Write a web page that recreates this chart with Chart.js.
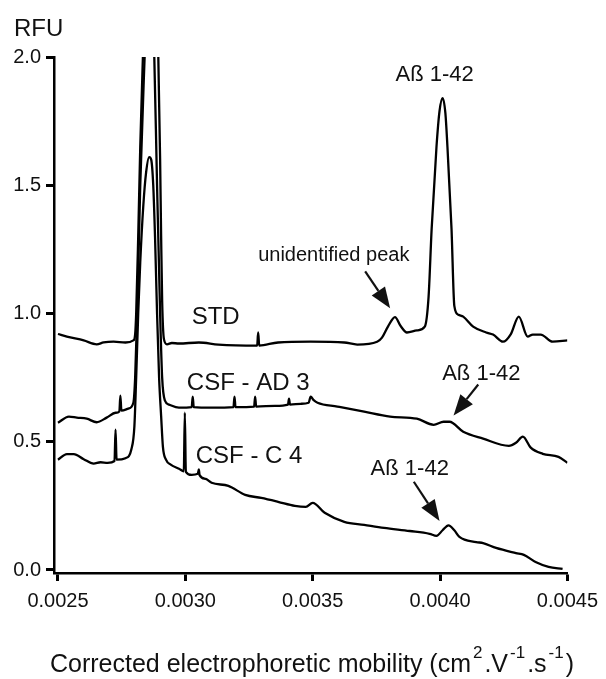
<!DOCTYPE html>
<html>
<head>
<meta charset="utf-8">
<script src="https://cdn.jsdelivr.net/npm/chart.js@4.4.0/dist/chart.umd.min.js"></script>
<style>
    html, body { margin: 0; padding: 0; background: #fff; }
    canvas { display: block; }
</style>
</head>
<body>
<canvas id="myChart" width="606" height="679"></canvas>
<script>
// STD trace
const mobilityStd = [0.002500, 0.002535, 0.002601, 0.002652, 0.002679, 0.002718, 0.002765, 0.002796, 0.002803, 0.002807,
    0.002815, 0.002823, 0.002835, 0.002862, 0.002893, 0.002901, 0.002905, 0.002909, 0.002916, 0.002928,
    0.002947, 0.002975, 0.003053, 0.003130, 0.003282, 0.003286, 0.003290, 0.003364, 0.003492, 0.003624,
    0.003675, 0.003753, 0.003772, 0.003796, 0.003823, 0.003846, 0.003870, 0.003909, 0.003940, 0.003955,
    0.003967, 0.003986, 0.003998, 0.004010, 0.004021, 0.004029, 0.004045, 0.004056, 0.004072, 0.004091,
    0.004130, 0.004181, 0.004208, 0.004247, 0.004278, 0.004309, 0.004344, 0.004364, 0.004395, 0.004442,
    0.004500];
const rfuStd = [0.920, 0.910, 0.895, 0.880, 0.887, 0.890, 0.887, 0.895, 0.920, 1.00,
    1.30, 1.65, 2.05, 2.90, 2.05, 1.60, 1.30, 1.05, 0.900, 0.880,
    0.885, 0.883, 0.887, 0.879, 0.875, 0.926, 0.875, 0.887, 0.890, 0.887,
    0.879, 0.890, 0.906, 0.950, 0.986, 0.950, 0.926, 0.934, 0.949, 1.066,
    1.33, 1.65, 1.79, 1.84, 1.78, 1.65, 1.33, 1.03, 0.995, 0.988,
    0.949, 0.926, 0.918, 0.890, 0.920, 0.988, 0.910, 0.918, 0.918, 0.890,
    0.895];

// CSF - AD 3 trace
const mobilityAd3 = [0.002500, 0.002543, 0.002574, 0.002613, 0.002652, 0.002691, 0.002726, 0.002741, 0.002745, 0.002749,
    0.002776, 0.002796, 0.002803, 0.002811, 0.002823, 0.002842, 0.002858, 0.002877, 0.002889, 0.002901,
    0.002909, 0.002920, 0.002936, 0.002975, 0.003025, 0.003029, 0.003033, 0.003103, 0.003189, 0.003193,
    0.003197, 0.003270, 0.003274, 0.003278, 0.003352, 0.003403, 0.003407, 0.003411, 0.003453, 0.003484,
    0.003492, 0.003504, 0.003519, 0.003597, 0.003702, 0.003804, 0.003909, 0.003975, 0.004014, 0.004037,
    0.004091, 0.004169, 0.004270, 0.004298, 0.004325, 0.004356, 0.004403, 0.004465, 0.004500];
const rfuAd3 = [0.574, 0.598, 0.594, 0.590, 0.576, 0.594, 0.613, 0.618, 0.680, 0.621,
    0.629, 0.652, 0.75, 1.00, 1.50, 2.05, 2.50, 2.05, 1.50, 1.00,
    0.75, 0.660, 0.645, 0.633, 0.635, 0.676, 0.635, 0.633, 0.635, 0.676,
    0.635, 0.637, 0.676, 0.637, 0.640, 0.645, 0.668, 0.645, 0.648, 0.652,
    0.676, 0.662, 0.652, 0.637, 0.617, 0.598, 0.590, 0.566, 0.578, 0.578,
    0.539, 0.512, 0.484, 0.496, 0.520, 0.477, 0.453, 0.441, 0.418];

// CSF - C 4 trace
const mobilityC4 = [0.002500, 0.002535, 0.002562, 0.002601, 0.002640, 0.002667, 0.002695, 0.002722, 0.002726, 0.002730,
    0.002765, 0.002788, 0.002800, 0.002807, 0.002815, 0.002823, 0.002835, 0.002846, 0.002858, 0.002866,
    0.002874, 0.002881, 0.002889, 0.002897, 0.002905, 0.002912, 0.002924, 0.002944, 0.002975, 0.002994,
    0.002998, 0.003002, 0.003025, 0.003049, 0.003053, 0.003056, 0.003080, 0.003103, 0.003169, 0.003235,
    0.003298, 0.003364, 0.003430, 0.003473, 0.003500, 0.003547, 0.003624, 0.003702, 0.003780, 0.003881,
    0.003959, 0.003986, 0.004010, 0.004033, 0.004056, 0.004076, 0.004142, 0.004169, 0.004220, 0.004298,
    0.004329, 0.004375, 0.004426, 0.004481];
const rfuC4 = [0.430, 0.452, 0.452, 0.432, 0.415, 0.420, 0.418, 0.425, 0.547, 0.430,
    0.436, 0.470, 0.56, 0.75, 1.00, 1.20, 1.42, 1.55, 1.61, 1.60,
    1.50, 1.30, 1.00, 0.75, 0.60, 0.48, 0.430, 0.410, 0.395, 0.385,
    0.613, 0.383, 0.371, 0.375, 0.392, 0.370, 0.355, 0.340, 0.328, 0.293,
    0.281, 0.266, 0.250, 0.246, 0.262, 0.223, 0.188, 0.176, 0.164, 0.152,
    0.141, 0.133, 0.155, 0.174, 0.155, 0.129, 0.109, 0.105, 0.086, 0.066,
    0.059, 0.031, 0.012, 0.004];

const xTicks = [0.0025, 0.0030, 0.0035, 0.0040, 0.0045];
const yTicks = [0.0, 0.5, 1.0, 1.5, 2.0];

const FONT = "'Liberation Sans', Arial, sans-serif";
const INK = "#111";

// text notes and arrows, placed in data units
const notes = [
    { text: "STD", x: 0.003025, y: 0.961, align: "left", size: 24 },
    { text: "CSF - AD 3", x: 0.003006, y: 0.703, align: "left", size: 24 },
    { text: "CSF - C 4", x: 0.003041, y: 0.418, align: "left", size: 24 },
    { text: "unidentified peak", x: 0.003286, y: 1.203, align: "left", size: 20 },
    { text: "Aß 1-42", x: 0.003979, y: 1.906, align: "center", size: 22 },
    { text: "Aß 1-42", x: 0.004162, y: 0.742, align: "center", size: 22 },
    { text: "Aß 1-42", x: 0.003881, y: 0.371, align: "center", size: 22 },
];
const arrows = [
    { from: [0.003706, 1.164], to: [0.003804, 1.020] },
    { from: [0.004150, 0.723], to: [0.004053, 0.602] },
    { from: [0.003897, 0.344], to: [0.003998, 0.191] },
];

const toPoints = (xs, ys) => xs.map((x, i) => ({ x: x, y: ys[i] }));

const notesPlugin = {
    id: "notes",
    afterDraw(chart) {
        const ctx = chart.ctx;
        const sx = chart.scales.x;
        const sy = chart.scales.y;
        ctx.save();
        ctx.fillStyle = INK;
        ctx.strokeStyle = INK;
        ctx.textBaseline = "alphabetic";

        notes.forEach((n) => {
            ctx.font = n.size + "px " + FONT;
            ctx.textAlign = n.align;
            ctx.fillText(n.text, sx.getPixelForValue(n.x), sy.getPixelForValue(n.y));
        });

        arrows.forEach((a) => {
            const x0 = sx.getPixelForValue(a.from[0]);
            const y0 = sy.getPixelForValue(a.from[1]);
            const x1 = sx.getPixelForValue(a.to[0]);
            const y1 = sy.getPixelForValue(a.to[1]);
            const ang = Math.atan2(y1 - y0, x1 - x0);
            const headLen = 21;
            const headW = 8;
            const bx = x1 - headLen * Math.cos(ang);
            const by = y1 - headLen * Math.sin(ang);
            ctx.lineWidth = 2.2;
            ctx.beginPath();
            ctx.moveTo(x0, y0);
            ctx.lineTo(bx, by);
            ctx.stroke();
            ctx.beginPath();
            ctx.moveTo(x1, y1);
            ctx.lineTo(bx + headW * Math.sin(ang), by - headW * Math.cos(ang));
            ctx.lineTo(bx - headW * Math.sin(ang), by + headW * Math.cos(ang));
            ctx.closePath();
            ctx.fill();
        });

        // y axis name
        ctx.textAlign = "left";
        ctx.font = "24px " + FONT;
        ctx.fillText("RFU", 14, 36);

        // x axis name with superscripts
        const parts = [
            ["Corrected electrophoretic mobility (cm", 0],
            ["2", 1],
            [".V", 0],
            ["-1", 1],
            [".s", 0],
            ["-1", 1],
            [")", 0],
        ];
        let cx = 50;
        const base = 672;
        parts.forEach((p) => {
            ctx.font = (p[1] ? "17px " : "25px ") + FONT;
            const y = p[1] ? base - 14 : base;
            if (p[1]) cx += 2;
            ctx.fillText(p[0], cx, y);
            cx += ctx.measureText(p[0]).width + (p[1] ? 2 : 0);
        });
        ctx.restore();
    },
};

const lineStyle = {
    borderColor: "#000",
    borderWidth: 2.3,
    pointRadius: 0,
    fill: false,
    cubicInterpolationMode: "monotone",
};

const config = {
    type: "line",
    data: {
        datasets: [
            { label: "STD", data: toPoints(mobilityStd, rfuStd), ...lineStyle },
            { label: "CSF - AD 3", data: toPoints(mobilityAd3, rfuAd3), ...lineStyle },
            { label: "CSF - C 4", data: toPoints(mobilityC4, rfuC4), ...lineStyle },
        ],
    },
    options: {
        responsive: false,
        animation: false,
        layout: {
            padding: { top: 57, right: 34, left: 0, bottom: 0 },
        },
        plugins: {
            legend: { display: false },
            tooltip: { enabled: false },
        },
        scales: {
            x: {
                type: "linear",
                min: 0.0024844,
                max: 0.0045,
                afterBuildTicks: (scale) => {
                    scale.ticks = xTicks.map((v) => ({ value: v }));
                },
                afterFit: (scale) => {
                    scale.height = 106;
                },
                ticks: {
                    callback: (v) => v.toFixed(4),
                    font: { size: 20, family: FONT },
                    color: INK,
                    padding: 8,
                    maxRotation: 0,
                    autoSkip: false,
                },
                grid: {
                    drawOnChartArea: false,
                    drawTicks: true,
                    tickLength: 8,
                    tickWidth: 3,
                    color: "#000",
                },
                border: { color: "#000", width: 2.5 },
            },
            y: {
                min: -0.0117,
                max: 2.0,
                afterBuildTicks: (scale) => {
                    scale.ticks = yTicks.map((v) => ({ value: v }));
                },
                afterFit: (scale) => {
                    scale.width = 54;
                },
                ticks: {
                    callback: (v) => v.toFixed(1),
                    font: { size: 20, family: FONT },
                    color: INK,
                    padding: 5,
                },
                grid: {
                    drawOnChartArea: false,
                    drawTicks: true,
                    tickLength: 8,
                    tickWidth: 3,
                    color: "#000",
                },
                border: { color: "#000", width: 2.5 },
            },
        },
    },
    plugins: [notesPlugin],
};

new Chart(document.getElementById("myChart"), config);
</script>
</body>
</html>
